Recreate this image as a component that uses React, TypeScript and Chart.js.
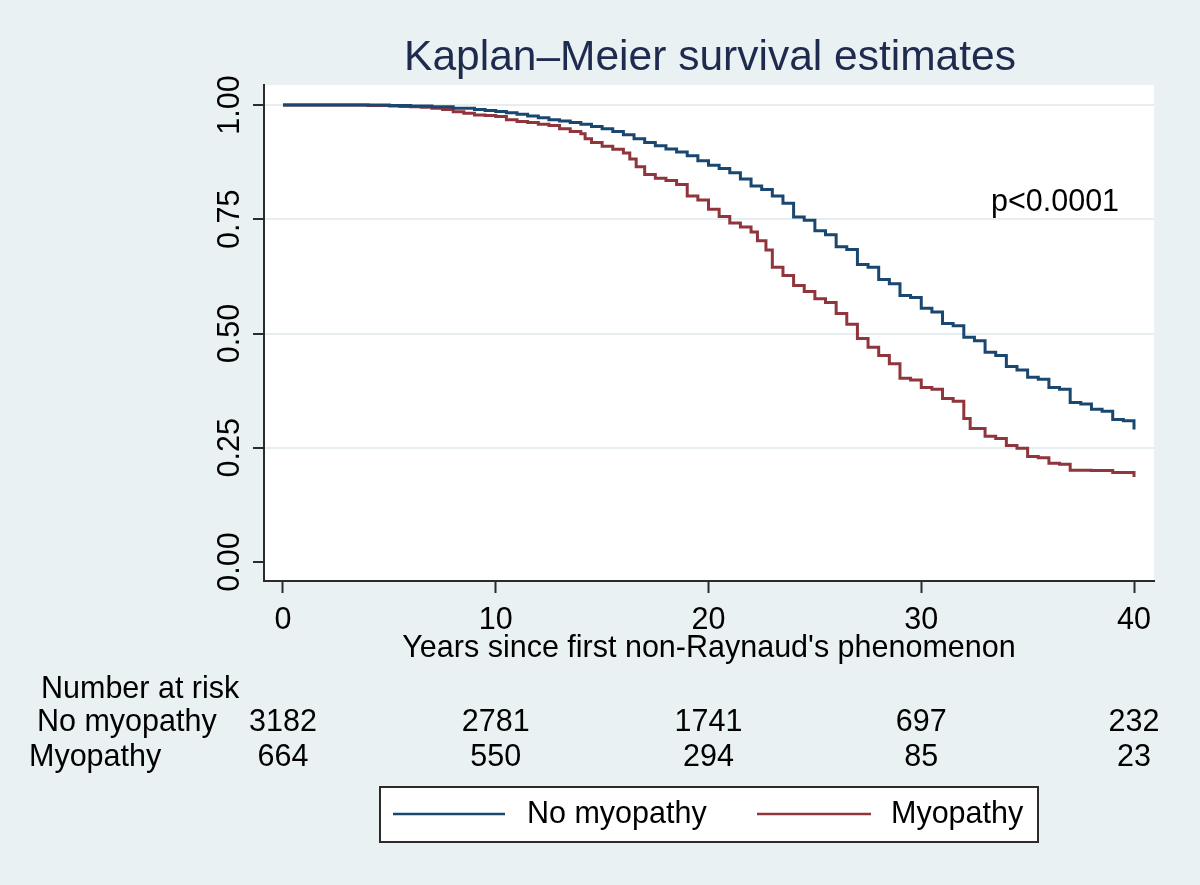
import { useEffect, useRef } from "react";
import { Chart, registerables } from "chart.js";

Chart.register(...registerables);

// Kaplan-Meier estimates (time in years, survival after that time)
const noMyoYears = [
  0, 5, 6, 7, 8, 9, 9.5, 10, 10.5, 11, 11.5, 12, 12.5, 13, 13.5, 14, 14.5, 15, 15.5, 16, 16.5, 17, 17.5,
  18, 18.5, 19, 19.5, 20, 20.5, 21, 21.5, 22, 22.5, 23, 23.5, 24, 24.5, 25, 25.5, 26, 26.5, 27, 27.5, 28,
  28.5, 29, 29.5, 30, 30.5, 31, 31.5, 32, 32.5, 33, 33.5, 34, 34.5, 35, 35.5, 36, 36.5, 37, 37.5, 38, 38.5,
  39, 39.5, 40,
];
const noMyoSurv = [
  1.0, 0.999, 0.998, 0.996, 0.993, 0.99, 0.988, 0.986, 0.983, 0.98, 0.976, 0.972, 0.968, 0.965, 0.962, 0.958,
  0.953, 0.948, 0.942, 0.935, 0.926, 0.918, 0.911, 0.904, 0.897, 0.889, 0.878, 0.868, 0.861, 0.852, 0.838,
  0.823, 0.815, 0.801, 0.785, 0.755, 0.748, 0.725, 0.716, 0.69, 0.684, 0.651, 0.645, 0.618, 0.609, 0.583,
  0.579, 0.555, 0.547, 0.522, 0.517, 0.492, 0.484, 0.459, 0.452, 0.428, 0.42, 0.404, 0.4, 0.382, 0.378,
  0.349, 0.346, 0.334, 0.33, 0.312, 0.309, 0.29,
];

const myoYears = [
  0, 4, 5, 5.5, 6, 6.5, 7, 7.5, 8, 8.5, 9, 9.5, 10, 10.5, 11, 11.5, 12, 12.5, 13, 13.5, 14, 14.2, 14.5, 15,
  15.5, 16, 16.3, 16.6, 17, 17.5, 18, 18.5, 19, 19.5, 20, 20.5, 21, 21.5, 22, 22.3, 22.7, 23, 23.5, 24, 24.5,
  25, 25.5, 26, 26.5, 27, 27.5, 28, 28.5, 29, 29.5, 30, 30.5, 31, 31.5, 32, 32.3, 33, 33.5, 34, 34.5, 35,
  35.5, 36, 36.5, 37, 38, 39, 40,
];
const myoSurv = [
  1.0, 0.999, 0.998, 0.997, 0.996, 0.995, 0.993, 0.99, 0.985, 0.982, 0.978, 0.977, 0.975, 0.968, 0.964,
  0.962, 0.958, 0.955, 0.948, 0.942, 0.937, 0.926, 0.918, 0.91, 0.903, 0.895, 0.882, 0.865, 0.848, 0.84,
  0.835, 0.826, 0.801, 0.792, 0.772, 0.756, 0.742, 0.733, 0.722, 0.703, 0.683, 0.645, 0.627, 0.605, 0.592,
  0.576, 0.568, 0.544, 0.52, 0.489, 0.47, 0.452, 0.434, 0.402, 0.398, 0.382, 0.378, 0.358, 0.352, 0.314,
  0.292, 0.275, 0.27, 0.255, 0.249, 0.231, 0.228, 0.216, 0.214, 0.201, 0.2, 0.196, 0.186,
];

const groupLabels = ["No myopathy", "Myopathy"];
const xTicks = [0, 10, 20, 30, 40];
const yTicks = [0, 0.25, 0.5, 0.75, 1];
const yTickLabels = ["0.00", "0.25", "0.50", "0.75", "1.00"];
const riskNoMyo = [3182, 2781, 1741, 697, 232];
const riskMyo = [664, 550, 294, 85, 23];

const FONT = '"Liberation Sans", Arial, Helvetica, sans-serif';
const TXT = 30.5;
const BG = "#eaf1f3";
const BLUE = "#1a476f";
const RED = "#90353b";
const AXIS = "#2b2b2b";

const decor = {
  id: "decor",
  beforeDraw(chart: Chart) {
    const { ctx, chartArea: a } = chart;
    ctx.save();
    ctx.fillStyle = BG;
    ctx.fillRect(0, 0, chart.width, chart.height);
    ctx.fillStyle = "#ffffff";
    ctx.fillRect(a.left, a.top, a.right - a.left, a.bottom - a.top);
    ctx.restore();
  },
  afterDraw(chart: Chart) {
    const { ctx } = chart;
    const xs = chart.scales.x;
    const ys = chart.scales.y;
    ctx.save();

    // title
    ctx.fillStyle = "#1e2b4f";
    ctx.font = `42.5px ${FONT}`;
    ctx.textAlign = "center";
    ctx.textBaseline = "middle";
    ctx.fillText("Kaplan\u2013Meier survival estimates", 710, 58);

    // rotated y tick labels
    ctx.fillStyle = "#000";
    ctx.font = `${TXT}px ${FONT}`;
    yTicks.forEach((v, i) => {
      ctx.save();
      ctx.translate(231, ys.getPixelForValue(v));
      ctx.rotate(-Math.PI / 2);
      ctx.textAlign = "center";
      ctx.textBaseline = "middle";
      ctx.fillText(yTickLabels[i], 0, 0);
      ctx.restore();
    });

    // p-value
    ctx.textAlign = "left";
    ctx.textBaseline = "middle";
    ctx.fillText("p<0.0001", 991, 203);

    // number at risk table
    ctx.fillText("Number at risk", 41, 690);
    ctx.fillText(groupLabels[0], 37, 723);
    ctx.fillText(groupLabels[1], 29, 758);
    ctx.textAlign = "center";
    xTicks.forEach((t, i) => {
      const px = xs.getPixelForValue(t);
      ctx.fillText(String(riskNoMyo[i]), px, 723);
      ctx.fillText(String(riskMyo[i]), px, 758);
    });

    // legend box
    ctx.fillStyle = "#ffffff";
    ctx.fillRect(380, 787, 658, 55);
    ctx.strokeStyle = AXIS;
    ctx.lineWidth = 2;
    ctx.strokeRect(380, 787, 658, 55);
    ctx.lineWidth = 2.5;
    ctx.strokeStyle = BLUE;
    ctx.beginPath();
    ctx.moveTo(393, 814);
    ctx.lineTo(505, 814);
    ctx.stroke();
    ctx.strokeStyle = RED;
    ctx.beginPath();
    ctx.moveTo(757, 814);
    ctx.lineTo(871, 814);
    ctx.stroke();
    ctx.fillStyle = "#000";
    ctx.textAlign = "left";
    ctx.fillText(groupLabels[0], 527, 815);
    ctx.fillText(groupLabels[1], 891, 815);

    ctx.restore();
  },
};

export default function App() {
  const canvasRef = useRef<HTMLCanvasElement | null>(null);
  const chartRef = useRef<Chart | null>(null);

  useEffect(() => {
    document.body.style.margin = "0";
    if (!canvasRef.current) return;
    const ctx = canvasRef.current.getContext("2d");
    if (!ctx) return;
    chartRef.current?.destroy();

    chartRef.current = new Chart(ctx, {
      type: "line",
      data: {
        datasets: [
          {
            label: groupLabels[0],
            data: noMyoYears.map((t, i) => ({ x: t, y: noMyoSurv[i] })),
            borderColor: BLUE,
            borderWidth: 3,
            stepped: true,
            pointRadius: 0,
            fill: false,
          },
          {
            label: groupLabels[1],
            data: myoYears.map((t, i) => ({ x: t, y: myoSurv[i] })),
            borderColor: RED,
            borderWidth: 3,
            stepped: true,
            pointRadius: 0,
            fill: false,
          },
        ],
      },
      options: {
        animation: false,
        responsive: false,
        layout: { padding: { left: 0, top: 85, right: 46, bottom: 218 } },
        plugins: {
          legend: { display: false },
          title: { display: false },
          tooltip: { enabled: false },
        },
        scales: {
          x: {
            type: "linear",
            min: -0.893,
            max: 40.94,
            afterFit: (s: any) => {
              s.height = 86;
            },
            afterBuildTicks: (s: any) => {
              s.ticks = xTicks.map((v) => ({ value: v }));
            },
            border: { display: true, color: AXIS, width: 2 },
            grid: {
              drawOnChartArea: false,
              drawTicks: true,
              tickLength: 12,
              tickColor: AXIS,
              tickWidth: 2,
            },
            ticks: {
              color: "#000",
              font: { family: FONT, size: TXT },
              padding: 9,
              maxRotation: 0,
              autoSkip: false,
            },
            title: {
              display: true,
              text: "Years since first non-Raynaud's phenomenon",
              color: "#000",
              font: { family: FONT, size: TXT },
              padding: { top: 0, bottom: 0 },
            },
          },
          y: {
            type: "linear",
            min: -0.0416,
            max: 1.0438,
            afterFit: (s: any) => {
              s.width = 264;
            },
            afterBuildTicks: (s: any) => {
              s.ticks = yTicks.map((v) => ({ value: v }));
            },
            border: { display: true, color: AXIS, width: 2 },
            grid: {
              color: (c: any) => (c.tick && c.tick.value === 0 ? "rgba(0,0,0,0)" : "#e6eef1"),
              lineWidth: 2,
              drawTicks: true,
              tickLength: 11,
              tickColor: AXIS,
              tickWidth: 2,
            },
            ticks: { display: false },
          },
        },
      },
      plugins: [decor],
    });

    return () => {
      chartRef.current?.destroy();
      chartRef.current = null;
    };
  }, []);

  return (
    <div style={{ width: 1200, height: 885 }}>
      <canvas ref={canvasRef} width={1200} height={885} style={{ width: 1200, height: 885 }} />
    </div>
  );
}
